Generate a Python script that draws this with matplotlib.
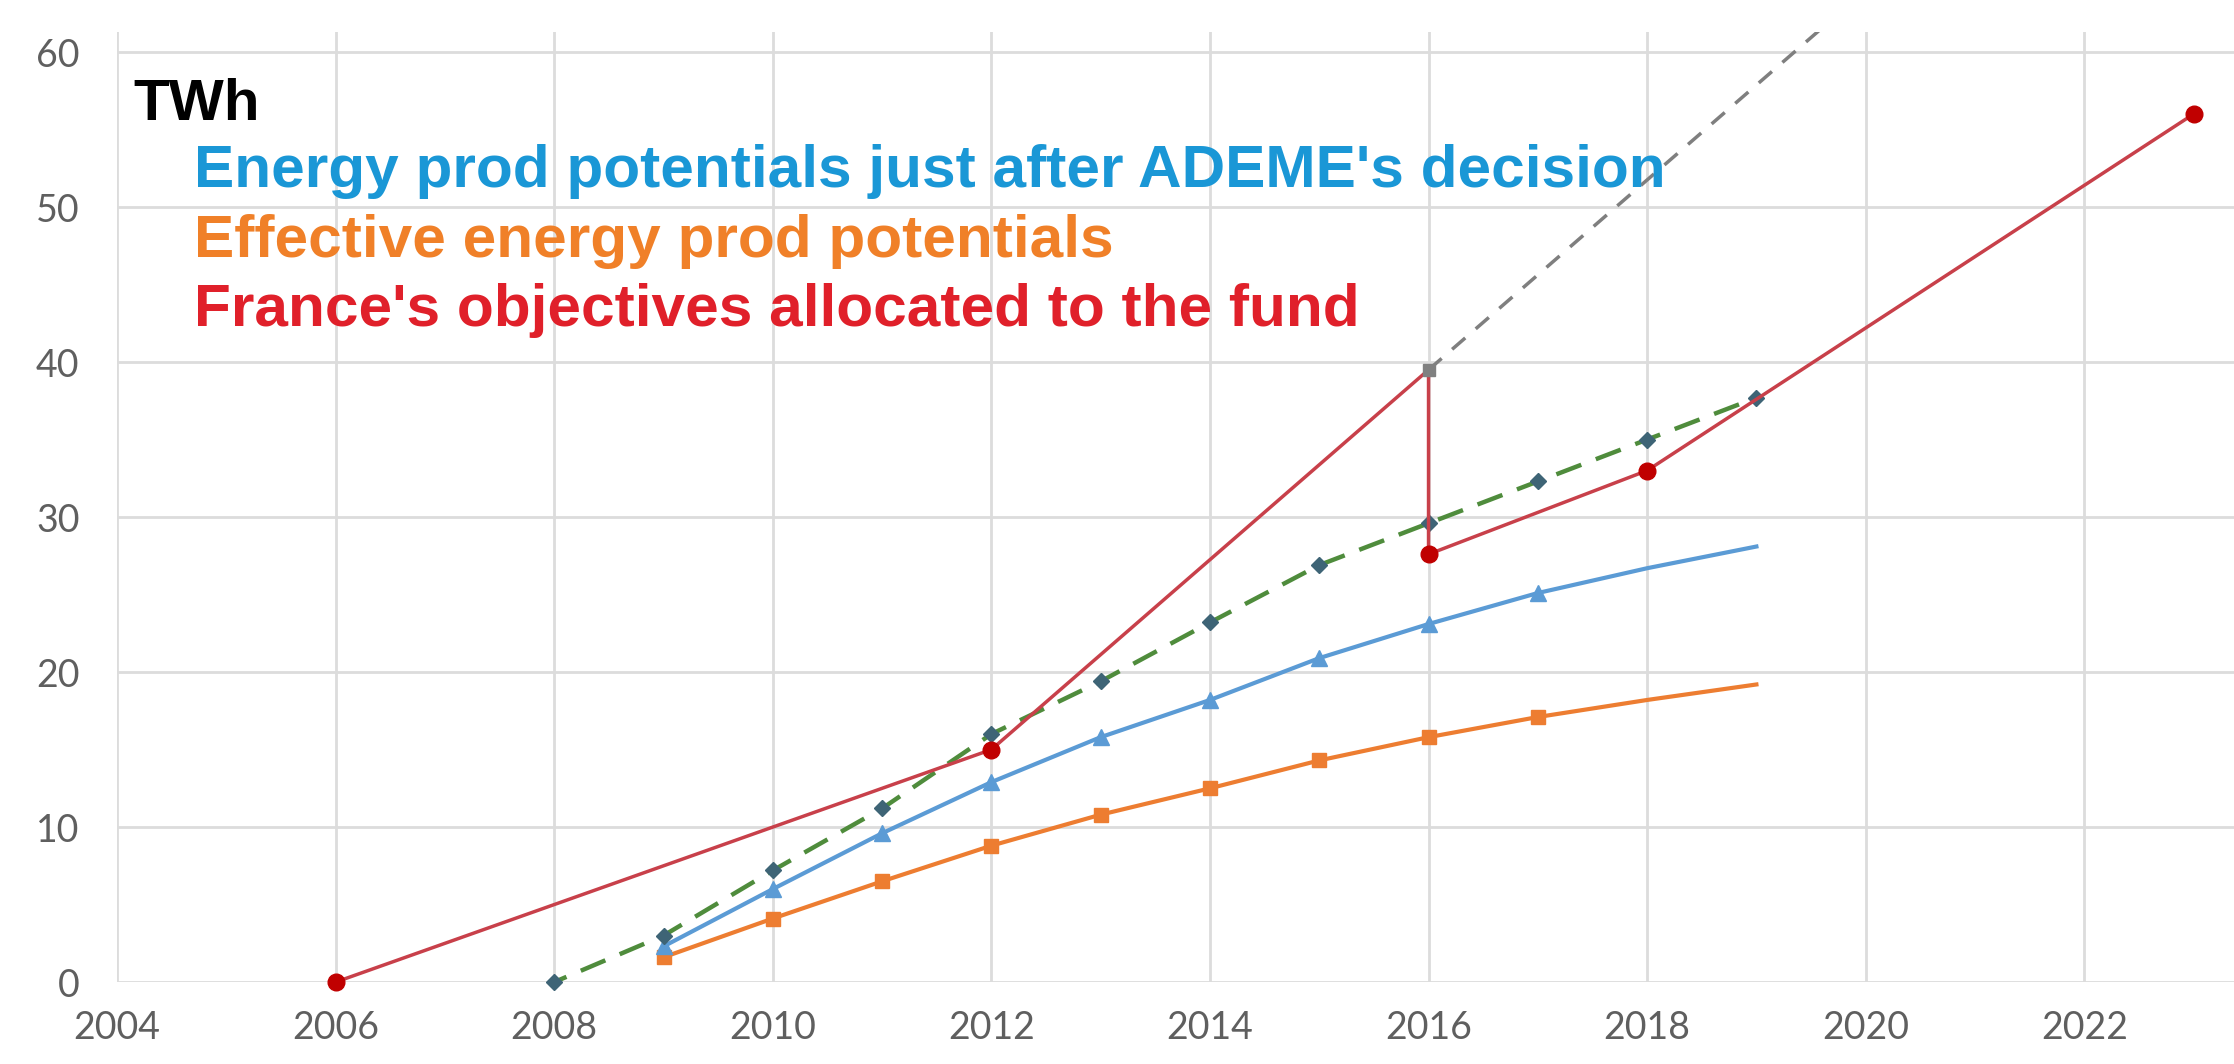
import matplotlib
matplotlib.use('Agg')
import matplotlib.pyplot as plt

# Données
red_years = [2006, 2012, 2016, 2016, 2018, 2023]
red_values = [0, 15, 39.5, 27.6, 33, 56]
red_marker_idx = [0, 1, 3, 4, 5]

grey_years = [2016, 2020]
grey_values = [39.5, 64]

trend_years = [2008, 2009, 2010, 2011, 2012, 2013, 2014, 2015, 2016, 2017, 2018, 2019]
trend_values = [0, 3.0, 7.2, 11.2, 16.0, 19.4, 23.2, 26.9, 29.6, 32.3, 35.0, 37.7]

blue_years = [2009, 2010, 2011, 2012, 2013, 2014, 2015, 2016, 2017, 2018, 2019]
blue_values = [2.3, 6.0, 9.6, 12.9, 15.8, 18.2, 20.9, 23.1, 25.1, 26.7, 28.1]

orange_years = [2009, 2010, 2011, 2012, 2013, 2014, 2015, 2016, 2017, 2018, 2019]
orange_values = [1.6, 4.1, 6.5, 8.8, 10.8, 12.5, 14.3, 15.8, 17.1, 18.2, 19.2]

x_ticks = [2004, 2006, 2008, 2010, 2012, 2014, 2016, 2018, 2020, 2022]
y_ticks = [0, 10, 20, 30, 40, 50, 60]

labels = ["Energy prod potentials just after ADEME's decision",
          "Effective energy prod potentials",
          "France's objectives allocated to the fund"]
label_colors = ['#1a97d6', '#f08028', '#e0202a']

fig = plt.figure(figsize=(22.34, 10.64), dpi=100)
ax = fig.add_axes([0.0524, 0.077, 0.9476, 0.893])

# Courbes
ax.plot(orange_years, orange_values, color='#ed7d31', linewidth=3,
        marker='s', markersize=10, markevery=list(range(9)), clip_on=False, zorder=3)
ax.plot(blue_years, blue_values, color='#5b9bd5', linewidth=3,
        marker='^', markersize=11, markevery=list(range(9)), clip_on=False, zorder=3)
ax.plot(grey_years, grey_values, color='#7f7f7f', linewidth=2.5,
        linestyle=(0, (5, 4)), zorder=2)
ax.plot(trend_years, trend_values, color='#4f8c3c', linewidth=3.2,
        linestyle=(3, (6, 3.5)), zorder=4, clip_on=False)
ax.plot(trend_years, trend_values, linestyle='none', marker='D', markersize=8,
        color='#3e6476', clip_on=False, zorder=5)
ax.plot(red_years, red_values, color='#c8404a', linewidth=2.5,
        marker='o', markersize=12, markerfacecolor='#c00000', markeredgecolor='#c00000',
        markevery=red_marker_idx, clip_on=False, zorder=6)
ax.plot([2016], [39.5], linestyle='none', marker='s', markersize=9,
        color='#808080', zorder=7)

ax.set_xlim(2004, 2023.37)
ax.set_ylim(0, 61.3)
ax.set_xticks(x_ticks)
ax.set_yticks(y_ticks)
ax.grid(True, color='#dcdcdc', linewidth=2)
ax.set_axisbelow(True)
for s in ax.spines.values():
    s.set_visible(False)
ax.tick_params(length=0, labelsize=27, labelcolor='#5f5f5f')
ax.tick_params(axis='x', pad=20)
ax.tick_params(axis='y', pad=27)
for lab in ax.get_xticklabels() + ax.get_yticklabels():
    lab.set_family('Lato')

# Légende sous forme de texte
ax.text(2004.15, 56.6, 'TWh', fontsize=42, fontweight='bold', color='black',
        family='Liberation Sans', va='center')
for i, (lab, col) in enumerate(zip(labels, label_colors)):
    ax.text(2004.7, 52.3 - i * 4.5, lab, fontsize=43.5, fontweight='bold', color=col,
            family='Liberation Sans', va='center')

plt.savefig('out.png', dpi=100)
plt.close()
